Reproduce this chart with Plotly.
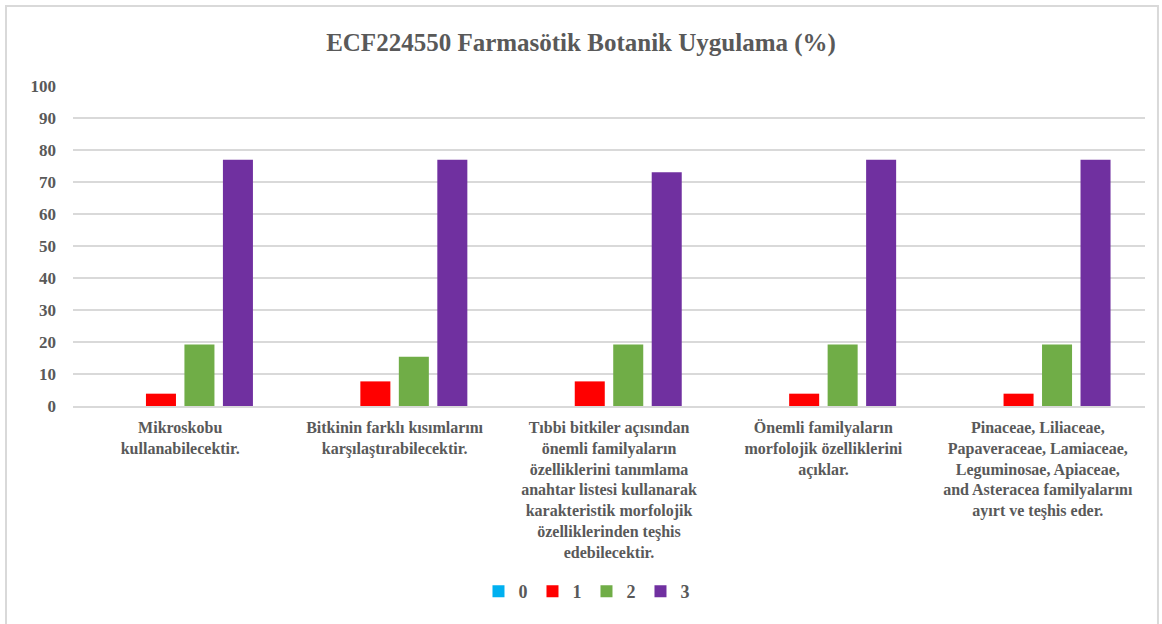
import plotly.graph_objects as go

categories = [
    "Mikroskobu<br>kullanabilecektir.",
    "Bitkinin farklı kısımlarını<br>karşılaştırabilecektir.",
    "Tıbbi bitkiler açısından<br>önemli familyaların<br>özelliklerini tanımlama<br>anahtar listesi kullanarak<br>karakteristik morfolojik<br>özelliklerinden teşhis<br>edebilecektir.",
    "Önemli familyaların<br>morfolojik özelliklerini<br>açıklar.",
    "Pinaceae, Liliaceae,<br>Papaveraceae, Lamiaceae,<br>Leguminosae, Apiaceae,<br>and Asteracea familyalarını<br>ayırt ve teşhis eder.",
]
series_names = ["0", "1", "2", "3"]
s0 = [0, 0, 0, 0, 0]
s1 = [3.85, 7.69, 7.69, 3.85, 3.85]
s2 = [19.23, 15.38, 19.23, 19.23, 19.23]
s3 = [76.92, 76.92, 73.08, 76.92, 76.92]
colors = ["#00b0f0", "#ff0000", "#70ad47", "#7030a0"]

font_family = "Liberation Serif"
grey = "#595959"

fig = go.Figure()
for name, vals, col in zip(series_names, [s0, s1, s2, s3], colors):
    fig.add_trace(go.Bar(x=categories, y=vals, name=name, marker=dict(color=col, line=dict(width=0))))

fig.update_layout(
    width=1162, height=624,
    paper_bgcolor="white", plot_bgcolor="white",
    margin=dict(l=73, r=17, t=86, b=218),
    barmode="group", bargap=0.282, bargroupgap=0.22,
    title=dict(text="<b>ECF224550 Farmasötik Botanik Uygulama (%)</b>", x=0.5, xanchor="center",
               y=1 - 42 / 624, yanchor="middle",
               font=dict(family=font_family, size=25, color=grey)),
    font=dict(family=font_family, color=grey),
    legend=dict(orientation="h", x=0.479, xanchor="center", y=-0.58, yanchor="middle",
                font=dict(family=font_family, size=18, color=grey, weight="bold"),
                itemwidth=30, tracegroupgap=0),
    showlegend=True,
)
fig.update_yaxes(range=[0, 100], dtick=10, showgrid=True, gridcolor="#d9d9d9", gridwidth=1.5,
                 zeroline=False, showline=False, ticks="", ticklabelstandoff=16,
                 tickfont=dict(family=font_family, size=17, color=grey, weight="bold"))
fig.update_xaxes(showline=True, linecolor="#d9d9d9", linewidth=1.5, ticks="", tickangle=0,
                 ticklabelstandoff=6,
                 tickfont=dict(family=font_family, size=16, color=grey, weight="bold"))

fig.add_shape(type="rect", xref="paper", yref="paper", x0=-0.0625, x1=1.0121, y0=-0.75, y1=1.25,
              line=dict(color="#d9d9d9", width=2), fillcolor="rgba(0,0,0,0)", layer="below")

fig.write_html("out.html", config={"displayModeBar": False})

with open("out.html", "r", encoding="utf-8") as f:
    html = f.read()
html = html.replace("<body>", '<body style="margin:0;padding:0;overflow:hidden">', 1)
with open("out.html", "w", encoding="utf-8") as f:
    f.write(html)
